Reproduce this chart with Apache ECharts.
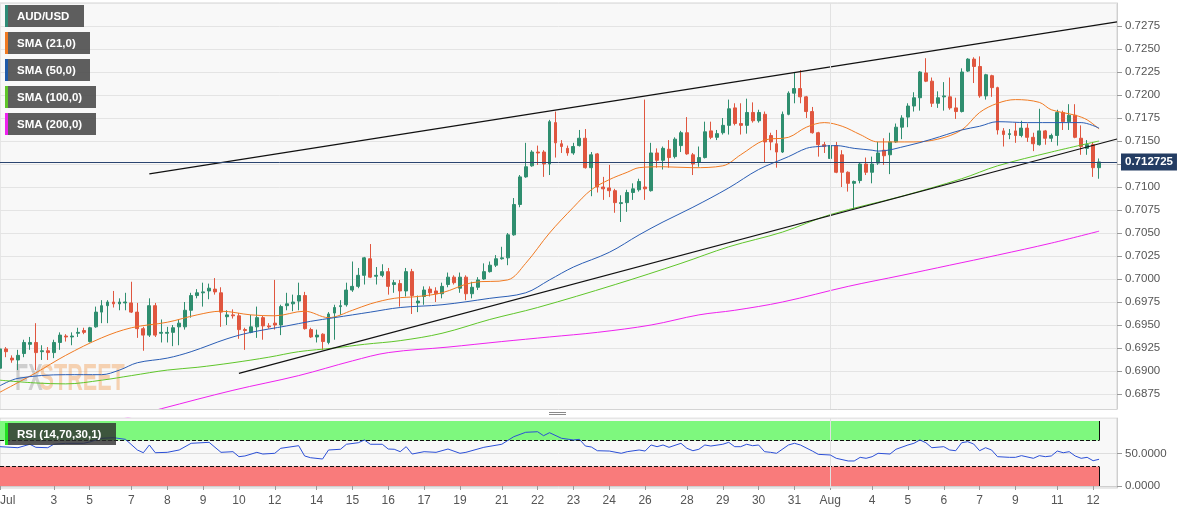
<!DOCTYPE html>
<html><head><meta charset="utf-8">
<script src="https://cdn.jsdelivr.net/npm/echarts@6/dist/echarts.min.js"></script>
<style>html,body{margin:0;padding:0;background:#fff}#c{width:1194px;height:513px}</style>
</head><body><div id="c"></div>
<script>
// ---- data (4-hour candles, AUD/USD, 1 Jul - 12 Aug) ----
const opens = [0.6903,0.6924,0.6914,0.6912,0.6919,0.6929,0.6931,0.6921,0.6922,0.6920,
0.6931,0.6938,0.6937,0.6941,0.6944,0.6932,0.6948,0.6964,0.6971,0.6975,
0.6973,0.6974,0.6974,0.6964,0.6946,0.6939,0.6971,0.6941,0.6941,0.6942,
0.6948,0.6948,0.6966,0.6982,0.6985,0.6987,0.6989,0.6985,0.6959,0.6961,
0.6960,0.6945,0.6942,0.6948,0.6958,0.6949,0.6952,0.6950,0.6971,0.6973,
0.6976,0.6982,0.6945,0.6937,0.6940,0.6931,0.6963,0.6970,0.6972,0.6988,
0.6992,0.7004,0.7022,0.7003,0.7004,0.7008,0.6994,0.6995,0.6987,0.7008,
0.6974,0.6981,0.6989,0.6987,0.6984,0.6994,0.7002,0.6990,0.7002,0.6984,
0.6991,0.7000,0.7008,0.7015,0.7022,0.7023,0.7048,0.7081,0.7111,0.7123,
0.7138,0.7138,0.7125,0.7170,0.7147,0.7142,0.7137,0.7145,0.7153,0.7121,
0.7136,0.7100,0.7099,0.7096,0.7082,0.7083,0.7094,0.7097,0.7100,0.7096,
0.7137,0.7129,0.7141,0.7133,0.7145,0.7159,0.7135,0.7127,0.7132,0.7161,
0.7154,0.7159,0.7167,0.7186,0.7169,0.7167,0.7181,0.7172,0.7179,0.7156,
0.7147,0.7138,0.7179,0.7202,0.7207,0.7198,0.7182,0.7159,0.7146,0.7131,
0.7145,0.7135,0.7116,0.7104,0.7107,0.7125,0.7116,0.7126,0.7140,0.7135,
0.7149,0.7165,0.7176,0.7188,0.7197,0.7224,0.7215,0.7191,0.7198,0.7198,
0.7186,0.7182,0.7226,0.7239,0.7231,0.7199,0.7221,0.7208,0.7161,0.7157,
0.7161,0.7156,0.7164,0.7154,0.7146,0.7161,0.7153,0.7156,0.7181,0.7171,
0.7178,0.7153,0.7142,0.7146,0.7121];
const closes = [0.6924,0.6921,0.6912,0.6917,0.6931,0.6931,0.6920,0.6922,0.6920,0.6931,
0.6939,0.6937,0.6938,0.6942,0.6942,0.6947,0.6964,0.6971,0.6975,0.6973,
0.6975,0.6975,0.6964,0.6946,0.6939,0.6971,0.6939,0.6942,0.6942,0.6947,
0.6952,0.6966,0.6982,0.6985,0.6986,0.6990,0.6986,0.6964,0.6961,0.6960,
0.6945,0.6944,0.6948,0.6958,0.6949,0.6948,0.6950,0.6970,0.6973,0.6975,
0.6982,0.6946,0.6937,0.6939,0.6932,0.6962,0.6969,0.6971,0.6988,0.6992,
0.7004,0.7023,0.7002,0.7004,0.7008,0.6992,0.6996,0.6987,0.7008,0.6982,
0.6976,0.6988,0.6985,0.6984,0.6992,0.7002,0.6996,0.7002,0.6984,0.6991,
0.6999,0.7008,0.7015,0.7022,0.7023,0.7048,0.7081,0.7111,0.7122,0.7138,
0.7137,0.7125,0.7171,0.7148,0.7144,0.7137,0.7144,0.7153,0.7121,0.7135,
0.7100,0.7098,0.7096,0.7083,0.7083,0.7094,0.7098,0.7106,0.7098,0.7137,
0.7129,0.7142,0.7132,0.7152,0.7159,0.7136,0.7125,0.7132,0.7160,0.7154,
0.7158,0.7167,0.7185,0.7169,0.7167,0.7181,0.7172,0.7181,0.7149,0.7149,
0.7138,0.7179,0.7202,0.7207,0.7198,0.7182,0.7159,0.7146,0.7144,0.7145,
0.7116,0.7116,0.7104,0.7106,0.7125,0.7116,0.7125,0.7137,0.7134,0.7149,
0.7165,0.7175,0.7188,0.7197,0.7225,0.7215,0.7191,0.7197,0.7199,0.7186,
0.7182,0.7225,0.7239,0.7231,0.7199,0.7222,0.7208,0.7162,0.7157,0.7158,
0.7156,0.7164,0.7154,0.7147,0.7161,0.7153,0.7156,0.7181,0.7171,0.7178,
0.7154,0.7144,0.7146,0.7121,0.712725];
const lows = [0.6899,0.6915,0.6909,0.6901,0.6915,0.6923,0.6901,0.6912,0.6912,0.6914,
0.6923,0.6932,0.6928,0.6937,0.6940,0.6931,0.6947,0.6952,0.6952,0.6969,
0.6966,0.6966,0.6963,0.6936,0.6922,0.6937,0.6937,0.6931,0.6931,0.6927,
0.6928,0.6945,0.6958,0.6979,0.6970,0.6978,0.6983,0.6948,0.6950,0.6957,
0.6935,0.6923,0.6941,0.6936,0.6934,0.6946,0.6945,0.6939,0.6966,0.6965,
0.6966,0.6945,0.6936,0.6931,0.6923,0.6929,0.6934,0.6961,0.6970,0.6986,
0.6990,0.6994,0.7001,0.6994,0.7002,0.6983,0.6985,0.6970,0.6981,0.6962,
0.6964,0.6972,0.6981,0.6975,0.6979,0.6991,0.6994,0.6985,0.6977,0.6979,
0.6988,0.6999,0.7007,0.7013,0.7021,0.7015,0.7047,0.7078,0.7110,0.7122,
0.7124,0.7111,0.7113,0.7132,0.7137,0.7134,0.7135,0.7144,0.7120,0.7090,
0.7094,0.7086,0.7089,0.7072,0.7062,0.7073,0.7086,0.7095,0.7086,0.7095,
0.7121,0.7119,0.7121,0.7131,0.7138,0.7135,0.7113,0.7122,0.7131,0.7152,
0.7151,0.7157,0.7157,0.7167,0.7157,0.7158,0.7170,0.7170,0.7127,0.7140,
0.7121,0.7137,0.7178,0.7191,0.7191,0.7175,0.7158,0.7133,0.7137,0.7129,
0.7115,0.7100,0.7095,0.7076,0.7104,0.7113,0.7104,0.7124,0.7124,0.7114,
0.7148,0.7152,0.7165,0.7182,0.7183,0.7214,0.7187,0.7186,0.7183,0.7184,
0.7174,0.7181,0.7225,0.7213,0.7197,0.7195,0.7198,0.7157,0.7144,0.7152,
0.7148,0.7154,0.7149,0.7139,0.7145,0.7146,0.7149,0.7145,0.7162,0.7162,
0.7153,0.7135,0.7135,0.7111,0.7109];
const highs = [0.6928,0.6926,0.6917,0.6923,0.6934,0.6937,0.6952,0.6928,0.6926,0.6934,
0.6942,0.6940,0.6942,0.6947,0.6947,0.6948,0.6970,0.6977,0.6977,0.6987,
0.6979,0.6985,0.6997,0.6974,0.6948,0.6979,0.6974,0.6956,0.6948,0.6950,
0.6956,0.6975,0.6985,0.6989,0.6996,0.6995,0.7001,0.6991,0.6966,0.6967,
0.6963,0.6947,0.6961,0.6970,0.6960,0.6952,0.6999,0.6972,0.6985,0.6983,
0.6996,0.6986,0.6947,0.6945,0.6941,0.6964,0.6972,0.6977,0.6996,0.7019,
0.7012,0.7024,0.7038,0.7013,0.7016,0.7012,0.6999,0.6999,0.7012,0.7011,
0.6982,0.6992,0.6992,0.6991,0.6996,0.7007,0.7004,0.7007,0.7004,0.6997,
0.7002,0.7017,0.7019,0.7026,0.7035,0.7050,0.7088,0.7113,0.7148,0.7140,
0.7145,0.7140,0.7173,0.7182,0.7151,0.7145,0.7148,0.7162,0.7163,0.7138,
0.7137,0.7111,0.7124,0.7098,0.7091,0.7097,0.7104,0.7109,0.7195,0.7148,
0.7142,0.7144,0.7151,0.7154,0.7161,0.7176,0.7137,0.7144,0.7171,0.7171,
0.7162,0.7175,0.7195,0.7191,0.7191,0.7196,0.7192,0.7184,0.7182,0.7159,
0.7162,0.7182,0.7204,0.7224,0.7227,0.7199,0.7187,0.7160,0.7149,0.7149,
0.7149,0.7140,0.7117,0.7107,0.7126,0.7132,0.7133,0.7149,0.7153,0.7159,
0.7169,0.7178,0.7191,0.7203,0.7226,0.7240,0.7219,0.7204,0.7214,0.7219,
0.7197,0.7229,0.7240,0.7241,0.7242,0.7223,0.7222,0.7209,0.7164,0.7163,
0.7170,0.7172,0.7169,0.7159,0.7185,0.7162,0.7158,0.7184,0.7183,0.7190,
0.7190,0.7167,0.7151,0.7149,0.7131];

// moving averages, read at [candle index, value]
const sma21 = [[0,0.6877],[6,0.6898],[11,0.6917],[17,0.6936],[22,0.6947],[28,0.6953],[33,0.6961],[37,0.6965],[42,0.6961],[46,0.6960],
[51,0.6965],[55,0.6958],[59,0.6966],[62,0.6973],[66,0.6979],[70,0.6981],[74,0.6985],[79,0.6996],[85,0.6999],[88,0.7017],
[92,0.7050],[96,0.7078],[99,0.7097],[102,0.7108],[105,0.7116],[107,0.7121],[111,0.7122],[116,0.7121],[121,0.7123],[124,0.7135],
[128,0.7151],[132,0.7154],[135,0.7165],[138,0.7170],[141,0.7166],[144,0.7157],[147,0.7149],[153,0.7149],[157,0.7152],[161,0.7162],
[164,0.7181],[167,0.7191],[170,0.7195],[174,0.7192],[176,0.7184],[180,0.7178],[182,0.7173],[184,0.7163]];
const sma50 = [[0,0.6884],[3,0.6892],[11,0.6896],[17,0.6896],[20,0.6901],[23,0.6909],[28,0.6914],[32,0.6921],[38,0.6935],[42,0.6942],
[48,0.6949],[52,0.6954],[56,0.6958],[62,0.6964],[67,0.6969],[74,0.6972],[82,0.6979],[88,0.6985],[92,0.6999],[96,0.7013],
[102,0.7029],[107,0.7048],[111,0.7062],[116,0.7078],[122,0.7099],[127,0.7119],[132,0.7133],[135,0.7142],[137,0.7144],[140,0.7145],
[143,0.7142],[146,0.7140],[147,0.7139],[152,0.7145],[156,0.7152],[161,0.7162],[164,0.7166],[167,0.7171],[172,0.7170],[177,0.7170],
[181,0.7170],[184,0.7164]];
const sma100 = [[0,0.6890],[6,0.6887],[11,0.6886],[17,0.6890],[22,0.6895],[28,0.6901],[33,0.6904],[39,0.6909],[45,0.6915],[50,0.6921],
[56,0.6925],[61,0.6929],[67,0.6933],[74,0.6941],[82,0.6956],[90,0.6969],[103,0.6994],[114,0.7017],[122,0.7035],[131,0.7051],
[139,0.7070],[151,0.7090],[161,0.7109],[167,0.7123],[176,0.7138],[184,0.7150]];
const sma200 = [[20,0.6847],[27,0.6859],[39,0.6879],[50,0.6895],[59,0.6911],[65,0.6920],[75,0.6926],[84,0.6932],[92,0.6937],[100,0.6942],
[109,0.6950],[117,0.6961],[123,0.6966],[131,0.6975],[142,0.6992],[151,0.7004],[159,0.7015],[167,0.7026],[176,0.7039],[184,0.7052]];

// channel lines (two points each)
const upperTrend = [[25,0.71142],[187,0.72794]];
const lowerTrend = [[40,0.68975],[187,0.71522]];

// RSI (14)
const rsi = [[0,60.5],[3,58.9],[5,64.2],[6,59.5],[8,58.9],[9,64.2],[11,65.7],[14,65.7],[15,67.7],[17,73.4],
[19,74.3],[21,71.8],[23,55.4],[24,51.2],[25,63.1],[26,51.2],[28,51.8],[30,55.4],[32,65.7],[35,67.2],
[37,51.8],[39,52.8],[40,45.1],[41,46.2],[43,51.8],[44,49.2],[46,50.3],[47,58.0],[50,62.0],[51,46.2],
[52,43.5],[54,41.5],[55,55.4],[57,56.5],[58,64.2],[60,66.6],[61,70.8],[62,64.2],[64,64.2],[65,56.9],
[66,56.5],[67,52.8],[68,60.5],[69,49.2],[71,52.8],[73,51.8],[75,56.9],[77,50.3],[78,51.8],[81,59.5],
[84,64.2],[86,75.8],[88,82.6],[90,83.5],[91,77.4],[92,82.0],[94,73.4],[96,70.8],[97,71.8],[98,61.5],
[99,60.0],[100,54.3],[102,53.8],[104,50.3],[105,52.8],[107,55.4],[108,53.8],[109,63.1],[110,60.5],[111,63.1],
[112,59.5],[114,65.7],[115,58.0],[116,54.3],[117,56.5],[118,63.1],[119,61.5],[121,64.2],[122,67.2],[123,60.5],
[124,60.5],[125,64.2],[126,62.0],[127,63.1],[128,52.8],[129,51.8],[130,50.3],[132,63.1],[133,65.7],[134,63.1],
[136,53.8],[137,48.7],[139,47.7],[140,42.6],[142,38.5],[143,38.5],[144,44.1],[145,42.6],[146,45.1],[147,50.3],
[149,49.2],[150,56.5],[152,63.1],[153,65.7],[154,70.8],[155,66.6],[156,58.9],[158,60.5],[159,55.4],[160,54.3],
[161,66.6],[162,68.2],[163,64.6],[164,54.3],[165,58.9],[166,55.4],[167,45.1],[169,44.1],[170,44.1],[171,46.7],
[173,42.6],[174,46.7],[175,45.1],[176,46.2],[177,53.8],[178,51.2],[179,52.8],[180,46.2],[181,42.6],[182,44.1],
[183,38.9],[184,41.1]];

// x-axis tick labels (candle index -> label)
const tickIndex = [0,9,15,22,28,34,40,46,53,59,65,71,77,84,90,96,102,108,115,121,127,133,139,146,152,158,164,170,177,183];
const tickLabel = ['Jul','3','5','7','8','9','10','12','14','15','16','17','19','21','22','23','24','26','28','29','30','31','Aug','4','5','6','7','9','11','12'];
const lastPrice = 0.712725;
const slotCount = 188;     // candle slots incl. empty space at right
const augIndex = 139;
const lastIndex = 184;

// ---- build ----
const categories = Array.from({length: slotCount}, (_, i) => String(i));
const labelMap = {};
tickIndex.forEach((t, k) => { labelMap[t] = tickLabel[k]; });
const candleData = opens.map((o, i) => [o, closes[i], lows[i], highs[i]]);

const FONT = '"Liberation Sans", Arial, sans-serif';
const UP = '#2f8e6f', DOWN = '#e0563f';

function labelBox(x, y, w, boxFill, stripe, text) {
  return {type: 'group', x: x, y: y, z: 120, silent: true, children: [
    {type: 'rect', z: 120, shape: {x: 0, y: 0, width: w, height: 22}, style: {fill: boxFill}},
    {type: 'rect', z: 121, shape: {x: 0, y: 0, width: 3, height: 22}, style: {fill: stripe}},
    {type: 'text', z: 122, x: 12, y: 11.5, style: {text: text, fill: '#fff', font: 'bold 11.5px ' + FONT, verticalAlign: 'middle'}}
  ]};
}

const chart = echarts.init(document.getElementById('c'), null, {renderer: 'canvas'});
chart.setOption({
  animation: false,
  backgroundColor: '#ffffff',
  textStyle: {fontFamily: FONT},
  grid: [
    {left: 0, right: 77, top: 3, height: 414, show: true, backgroundColor: '#f8f8f8', borderColor: '#d4d4d4', borderWidth: 1, containLabel: false, outerBoundsMode: 'none'},
    {left: 0, right: 77, top: 418, height: 70, show: true, backgroundColor: '#f8f8f8', borderColor: '#d4d4d4', borderWidth: 1, containLabel: false, outerBoundsMode: 'none'}
  ],
  xAxis: [
    {type: 'category', gridIndex: 0, data: categories, boundaryGap: false,
     axisLine: {show: false}, axisTick: {show: false}, axisLabel: {show: false}, splitLine: {show: false}},
    {type: 'category', gridIndex: 1, data: categories, boundaryGap: false,
     axisLine: {show: true, lineStyle: {color: '#cfcfcf'}},
     axisTick: {show: true, length: 4, interval: (i) => labelMap[i] !== undefined, lineStyle: {color: '#9a9a9a'}},
     axisLabel: {show: true, interval: (i) => labelMap[i] !== undefined, formatter: (v, i) => labelMap[i] || '',
                 color: '#555', fontSize: 12, margin: 7, alignMinLabel: 'left', hideOverlap: false},
     splitLine: {show: false}}
  ],
  yAxis: [
    {type: 'value', gridIndex: 0, position: 'right', min: 0.685, max: 0.730, interval: 0.0025,
     axisLine: {show: true, lineStyle: {color: '#cfcfcf'}},
     axisTick: {show: true, length: 5, lineStyle: {color: '#9a9a9a'}},
     axisLabel: {formatter: (v) => v.toFixed(4), color: '#555', fontSize: 11.5, margin: 8, showMinLabel: false, showMaxLabel: false},
     splitLine: {show: true, lineStyle: {color: '#e4e4e4', width: 1}}},
    {type: 'value', gridIndex: 1, position: 'right', min: -3.077, max: 104.62, splitNumber: 2,
     axisLine: {show: true, lineStyle: {color: '#cfcfcf'}},
     axisTick: {show: true, length: 5, customValues: [0, 50], lineStyle: {color: '#9a9a9a'}},
     axisLabel: {customValues: [0, 50], formatter: (v) => (Math.abs(v) < 1e-9 || Math.abs(v - 50) < 1e-9) ? v.toFixed(4) : '',
                 color: '#555', fontSize: 11.5, margin: 8},
     splitLine: {show: true, lineStyle: {color: '#dedede'}}}
  ],
  series: [
    {type: 'candlestick', name: 'AUD/USD', xAxisIndex: 0, yAxisIndex: 0, data: candleData, barWidth: 3.4,
     itemStyle: {color: UP, color0: DOWN, borderColor: UP, borderColor0: DOWN, borderWidth: 1},
     markLine: {silent: true, symbol: ['none', 'none'], animation: false, precision: 6,
       data: [
         {xAxis: String(augIndex), lineStyle: {color: '#e2e2e2', width: 1, type: 'solid'}, label: {show: false}},
         {yAxis: lastPrice, lineStyle: {color: '#2b4570', width: 1, type: 'solid'},
          label: {show: true, position: 'end', formatter: lastPrice.toFixed(6), color: '#fff', backgroundColor: '#243d63',
                  padding: [3, 4, 2, 4], fontWeight: 'bold', fontSize: 11.5, distance: 4}}
       ]}},
    {type: 'line', name: 'SMA 21', data: sma21, symbol: 'none', smooth: 0.35, lineStyle: {color: '#f07a22', width: 1}, silent: true, z: 3},
    {type: 'line', name: 'SMA 50', data: sma50, symbol: 'none', smooth: 0.35, lineStyle: {color: '#2a5db4', width: 1}, silent: true, z: 3},
    {type: 'line', name: 'SMA 100', data: sma100, symbol: 'none', smooth: 0.35, lineStyle: {color: '#5fc52a', width: 1}, silent: true, z: 3},
    {type: 'line', name: 'SMA 200', data: sma200, symbol: 'none', smooth: 0.35, lineStyle: {color: '#ee22ee', width: 1}, silent: true, z: 3},
    {type: 'line', name: 'upper', data: upperTrend, symbol: 'none', lineStyle: {color: '#111', width: 1.2}, silent: true, z: 4},
    {type: 'line', name: 'lower', data: lowerTrend, symbol: 'none', lineStyle: {color: '#111', width: 1.2}, silent: true, z: 4},
    {type: 'line', name: 'RSI', xAxisIndex: 1, yAxisIndex: 1, data: rsi, symbol: 'none', lineStyle: {color: '#2b4fd6', width: 1}, silent: true, z: 5,
     markArea: {silent: true, data: [
       [{xAxis: '0', yAxis: 70, itemStyle: {color: '#7ef87e'}}, {xAxis: String(lastIndex), yAxis: 100}],
       [{xAxis: '0', yAxis: 0, itemStyle: {color: '#f97b7b'}}, {xAxis: String(lastIndex), yAxis: 30}]
     ]},
     markLine: {silent: true, symbol: ['none', 'none'], label: {show: false}, precision: 6, data: [
       [{coord: ['0', 70], lineStyle: {color: '#111', type: 'dashed', width: 1}}, {coord: [String(lastIndex), 70]}],
       [{coord: ['0', 30], lineStyle: {color: '#111', type: 'dashed', width: 1}}, {coord: [String(lastIndex), 30]}],
       [{coord: [String(lastIndex), 70], lineStyle: {color: '#111', type: 'solid', width: 1}}, {coord: [String(lastIndex), 100]}],
       [{coord: [String(lastIndex), 0], lineStyle: {color: '#111', type: 'solid', width: 1}}, {coord: [String(lastIndex), 30]}],
       {xAxis: String(augIndex), lineStyle: {color: '#e0e0e0', width: 1, type: 'solid'}}
     ]}}
  ],
  graphic: [
    {type: 'group', x: 15, y: 362, scaleX: 0.6, z: 1, silent: true, children: [
      {type: 'text', z: 1, x: 0, y: 0, style: {text: 'FX', fill: 'rgba(120,120,120,0.33)', font: 'bold 36px "Liberation Sans Narrow", ' + FONT}},
      {type: 'text', z: 1, x: 41, y: 0, style: {text: 'STREET', fill: 'rgba(240,150,70,0.4)', font: 'bold 36px "Liberation Sans Narrow", ' + FONT}}
    ]},
    {type: 'rect', shape: {x: 0, y: 409.5, width: 1194, height: 8}, style: {fill: '#ffffff'}, z: 100, silent: true},
    {type: 'line', shape: {x1: 0, y1: 409.5, x2: 1117, y2: 409.5}, style: {stroke: '#d4d4d4', lineWidth: 1}, z: 101, silent: true},
    {type: 'line', shape: {x1: 549, y1: 412.5, x2: 566, y2: 412.5}, style: {stroke: '#8a8a8a', lineWidth: 1}, z: 101, silent: true},
    {type: 'line', shape: {x1: 549, y1: 414.5, x2: 566, y2: 414.5}, style: {stroke: '#8a8a8a', lineWidth: 1}, z: 101, silent: true},
    labelBox(5, 5, 79, 'rgba(82,82,82,0.93)', '#2e8b76', 'AUD/USD'),
    labelBox(5, 32, 85, 'rgba(82,82,82,0.93)', '#f07a22', 'SMA (21,0)'),
    labelBox(5, 59, 85, 'rgba(82,82,82,0.93)', '#1f5aa8', 'SMA (50,0)'),
    labelBox(5, 86, 91, 'rgba(82,82,82,0.93)', '#5fc52a', 'SMA (100,0)'),
    labelBox(5, 113, 91, 'rgba(82,82,82,0.93)', '#ee22ee', 'SMA (200,0)'),
    labelBox(5, 423, 111, 'rgba(45,45,45,0.8)', '#22e022', 'RSI (14,70,30,1)')
  ]
});
</script>
</body></html>
